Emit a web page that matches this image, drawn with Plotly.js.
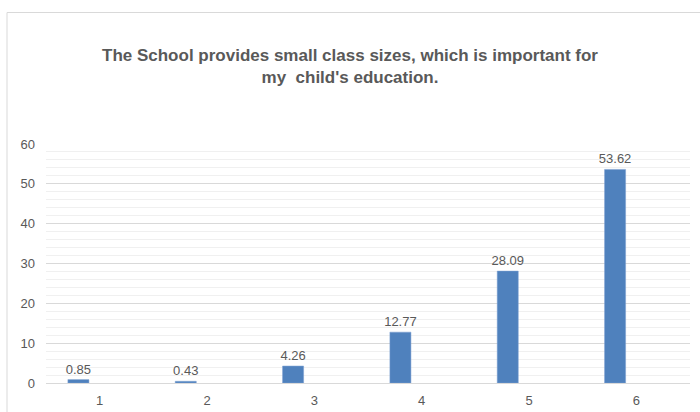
<!DOCTYPE html>
<html>
<head>
<meta charset="utf-8">
<script src="https://cdn.plot.ly/plotly-3.0.1.min.js"></script>
<style>html,body{margin:0;padding:0;background:#fff;}#chart{width:700px;height:412px;}</style>
</head>
<body>
<div id="chart"></div>
<script>
const categories = ['1', '2', '3', '4', '5', '6'];
const values = [0.85, 0.43, 4.26, 12.77, 28.09, 53.62];
const labels = ['0.85', '0.43', '4.26', '12.77', '28.09', '53.62'];
const yTicks = [0, 10, 20, 30, 40, 50, 60];
const chartTitle = "The School provides small class sizes, which is important for<br>my  child's education.";

const trace = {
  type: 'bar',
  x: categories,
  y: values,
  text: labels,
  textposition: 'outside',
  constraintext: 'none',
  cliponaxis: false,
  textfont: {family: 'Liberation Sans, Arial, sans-serif', size: 13, color: '#595959'},
  marker: {color: '#4f81bd', line: {color: '#7a9fd0', width: 0.5}},
  width: 0.196,
  offset: -0.296,
  hoverinfo: 'skip'
};

const layout = {
  width: 700, height: 412,
  margin: {l: 46, r: 10, t: 144, b: 29},
  paper_bgcolor: '#ffffff', plot_bgcolor: '#ffffff',
  showlegend: false,
  title: {
    text: '<b>' + chartTitle + '</b>',
    font: {family: 'Liberation Sans, Arial, sans-serif', size: 17, color: '#595959'},
    x: 0.5, xref: 'container', xanchor: 'center',
    y: 1 - 61/412, yref: 'container', yanchor: 'top'
  },
  xaxis: {
    type: 'category',
    range: [-0.5, 5.5],
    showgrid: false,
    showline: true, linecolor: '#d9d9d9', linewidth: 1,
    ticks: '',
    ticklabelstandoff: 5,
    tickfont: {family: 'Liberation Sans, Arial, sans-serif', size: 13, color: '#595959'},
    zeroline: false, fixedrange: true
  },
  yaxis: {
    range: [0, 60],
    tickvals: yTicks,
    ticktext: yTicks.map(String),
    showgrid: true, gridcolor: '#d9d9d9', gridwidth: 1,
    minor: {dtick: 2, showgrid: true, gridcolor: '#f0f0f0', gridwidth: 1},
    showline: false, zeroline: false,
    ticks: '',
    ticklabelstandoff: 10,
    tickfont: {family: 'Liberation Sans, Arial, sans-serif', size: 13, color: '#595959'},
    fixedrange: true
  },
  shapes: [{
    type: 'rect', xref: 'paper', yref: 'paper',
    x0: (7 - 46) / 644, x1: 1.05,
    y0: -0.3, y1: (383 - 12.5) / 239,
    line: {color: '#d9d9d9', width: 1}, fillcolor: 'rgba(0,0,0,0)', layer: 'below'
  }]
};

Plotly.newPlot('chart', [trace], layout, {displayModeBar: false, staticPlot: true});
</script>
</body>
</html>
